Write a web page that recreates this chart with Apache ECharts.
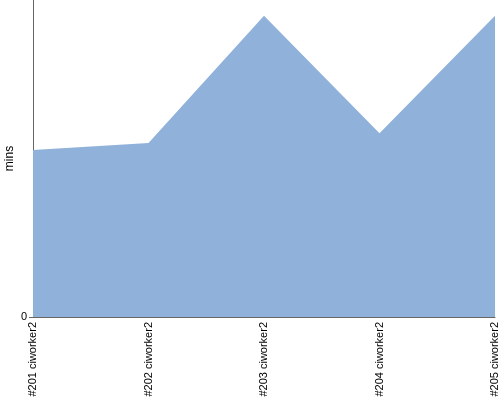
<!DOCTYPE html>
<html><head><meta charset="utf-8">
<script src="https://cdn.jsdelivr.net/npm/echarts@6/dist/echarts.min.js"></script>
<style>html,body{margin:0;padding:0;background:#fff}#c{width:500px;height:400px}</style>
</head><body><div id="c"></div>
<script>
const categories = ["#201 ciworker2", "#202 ciworker2", "#203 ciworker2", "#204 ciworker2", "#205 ciworker2"];
const values = [5.27, 5.49, 9.5, 5.8, 9.5];
const yMax = 10;
const yTicks = [0];
const chart = echarts.init(document.getElementById('c'), null, {renderer: 'canvas'});
chart.setOption({
  animation: false,
  grid: {left: 33, right: 5, top: 0, bottom: 83, containLabel: false, outerBoundsMode: 'none'},
  xAxis: {
    type: 'category', data: categories, boundaryGap: false,
    axisLine: {lineStyle: {color: '#666', width: 1}},
    axisTick: {show: false},
    axisLabel: {rotate: 90, interval: 0, color: '#000', fontSize: 11, fontFamily: 'Liberation Sans', margin: 5}
  },
  yAxis: {
    type: 'value', min: 0, max: yMax, interval: yMax,
    name: 'mins', nameLocation: 'middle', nameGap: 17, nameMoveOverlap: false,
    nameTextStyle: {color: '#000', fontSize: 12, fontFamily: 'Liberation Sans'},
    axisLine: {show: true, lineStyle: {color: '#666', width: 1}},
    axisTick: {show: true, length: 4, lineStyle: {color: '#666'}, customValues: yTicks},
    splitLine: {show: false},
    axisLabel: {color: '#000', fontSize: 11, fontFamily: 'Liberation Sans', margin: 6, customValues: yTicks}
  },
  series: [{
    type: 'line', data: values, symbol: 'none',
    lineStyle: {width: 0, color: '#8fb1da'},
    areaStyle: {color: '#8fb1da', opacity: 1}
  }]
});
</script></body></html>
